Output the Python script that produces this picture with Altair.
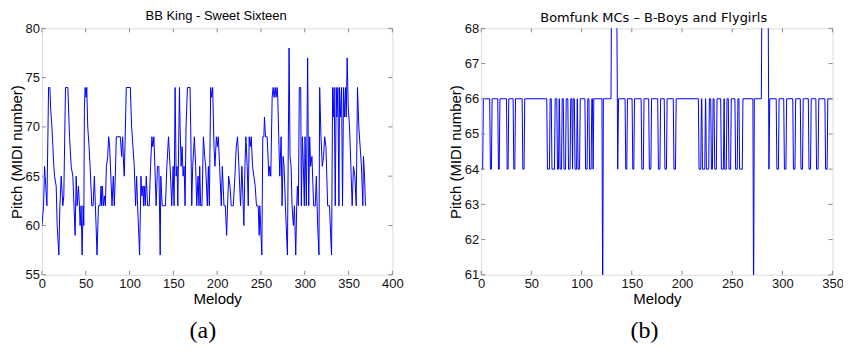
import altair as alt
import pandas as pd

# ---------------- Panel (a): BB King - Sweet Sixteen ----------------
a_x = [0.0, 1.9, 3.0, 5.7, 7.6, 9.1, 9.9, 11.4, 12.5, 13.6,
       14.4, 16.3, 17.4, 19.3, 20.5, 22.0, 23.9, 25.0, 26.9, 29.6,
       31.5, 33.4, 35.3, 37.9, 39.1, 40.2, 41.7, 42.8, 43.6, 44.7,
       45.9, 47.0, 47.8, 48.5, 49.3, 50.4, 51.2, 52.3, 53.8, 55.0,
       56.9, 58.4, 59.9, 61.0, 61.8, 62.9, 64.5, 66.4, 67.5, 68.2,
       69.0, 70.1, 71.3, 72.4, 73.6, 75.1, 76.2, 77.3, 80.0, 81.5,
       82.6, 83.8, 84.9, 89.5, 91.0, 92.1, 93.3, 94.0, 94.8, 96.3,
       100.9, 102.4, 103.9, 105.4, 106.9, 108.1, 109.2, 111.5, 113.0, 114.1,
       115.3, 116.0, 116.8, 117.9, 119.1, 120.6, 122.5, 124.0, 125.5, 126.6,
       127.8, 128.9, 130.4, 131.9, 133.5, 134.2, 135.0, 135.7, 137.3, 141.0,
       142.6, 144.5, 146.3, 148.2, 149.8, 150.9, 152.0, 153.2, 154.3, 155.1,
       157.0, 157.7, 158.9, 160.0, 161.1, 162.3, 163.4, 164.5, 166.1, 169.1,
       169.8, 171.0, 172.1, 174.0, 175.5, 176.7, 178.2, 179.3, 180.1, 181.2,
       182.7, 184.3, 185.8, 186.9, 188.8, 190.0, 191.1, 192.6, 193.7, 194.9,
       196.4, 197.5, 199.1, 200.2, 201.3, 202.8, 204.7, 205.9, 207.8, 209.3,
       210.8, 211.9, 213.1, 214.6, 216.1, 218.4, 220.3, 221.8, 223.3, 224.8,
       226.7, 228.3, 230.5, 231.7, 232.8, 234.3, 235.5, 236.6, 237.7, 238.9,
       240.4, 241.9, 243.4, 244.9, 246.8, 248.0, 248.7, 251.0, 252.1, 253.3,
       254.0, 255.2, 257.1, 259.0, 260.1, 261.2, 262.8, 263.9, 265.0, 266.2,
       267.3, 268.4, 269.2, 270.3, 271.5, 273.0, 274.1, 275.3, 276.4, 277.9,
       280.2, 282.1, 283.2, 284.4, 285.5, 287.0, 288.2, 289.7, 290.8, 291.6,
       292.7, 293.8, 295.4, 296.1, 297.3, 298.4, 299.5, 300.3, 301.8, 303.3,
       304.5, 305.6, 306.7, 308.2, 310.1, 312.0, 313.2, 314.7, 316.2, 317.0,
       318.5, 320.0, 321.5, 322.7, 324.2, 326.1, 328.3, 329.5, 330.6, 331.8,
       332.5, 333.6, 334.8, 335.9, 336.7, 337.8, 339.0, 339.7, 340.9, 342.0,
       343.1, 344.3, 345.4, 346.5, 347.3, 348.4, 349.6, 351.1, 352.6, 354.1,
       355.6, 357.2, 358.7, 360.2, 361.7, 363.2, 364.7, 366.3, 367.0, 368.2,
       369.3]
a_y = [60, 62, 66, 62, 74, 74, 72, 70, 68, 66,
       65, 64, 60, 57, 62, 65, 62, 63, 74, 74,
       69, 66, 65, 59, 65, 62, 64, 62, 60, 62,
       57, 62, 60, 72, 74, 73, 74, 70, 68, 66,
       62, 62, 65, 62, 60, 57, 62, 62, 64, 62,
       64, 62, 63, 62, 66, 67, 69, 68, 62, 65,
       62, 65, 69, 69, 67, 69, 66, 65, 68, 74,
       74, 70, 68, 66, 62, 65, 62, 57, 65, 63,
       64, 62, 64, 62, 65, 62, 62, 66, 69, 68,
       69, 66, 62, 66, 66, 62, 57, 65, 62, 62,
       66, 69, 66, 62, 66, 62, 74, 65, 66, 62,
       74, 70, 66, 68, 65, 66, 62, 70, 74, 74,
       70, 62, 66, 69, 66, 62, 65, 62, 66, 62,
       62, 69, 67, 66, 62, 66, 62, 74, 73, 74,
       68, 66, 69, 68, 69, 66, 62, 66, 62, 62,
       59, 62, 65, 64, 62, 62, 65, 68, 69, 66,
       62, 66, 60, 66, 69, 66, 62, 69, 68, 69,
       66, 65, 64, 62, 62, 59, 62, 57, 69, 69,
       71, 69, 69, 65, 66, 65, 73, 74, 73, 74,
       73, 74, 73, 69, 65, 69, 62, 67, 66, 62,
       57, 78, 67, 66, 62, 60, 62, 57, 62, 64,
       62, 74, 74, 62, 69, 66, 62, 69, 62, 77,
       62, 69, 66, 67, 62, 62, 65, 60, 57, 74,
       69, 66, 67, 69, 68, 62, 62, 59, 57, 74,
       71, 74, 62, 74, 71, 74, 62, 74, 71, 74,
       62, 74, 71, 74, 71, 77, 72, 70, 66, 62,
       66, 65, 62, 74, 70, 68, 66, 62, 67, 65,
       62]
a_xticks = [0, 50, 100, 150, 200, 250, 300, 350, 400]
a_yticks = [55, 60, 65, 70, 75, 80]

# ---------------- Panel (b): Bomfunk MCs - B-Boys and Flygirls ----------------
b_x = [0.0, 1.5, 2.2,
       8.5, 9.2, 10.2, 10.9,
       16.5, 17.2, 18.0, 18.7,
       25.2, 25.9, 26.8, 27.5,
       31.8, 32.5, 33.5, 34.2,
       40.8, 41.5, 42.7, 43.4,
       65.3, 66.0, 68.0, 68.7,
       69.8, 70.5, 73.0, 73.7,
       75.3, 76.0, 77.0, 77.7,
       77.9, 78.6, 80.0, 80.7,
       81.8, 82.5, 84.0, 84.7,
       86.3, 87.0, 88.5, 89.2,
       90.3, 91.0, 91.7,
       92.8, 93.5, 95.0, 95.7,
       95.8, 96.5, 98.0, 98.7,
       103.3, 104.0, 105.5, 106.2,
       107.3, 108.0, 109.5, 110.2,
       110.8, 111.5, 112.2,
       120.3, 121.0, 121.7,
       129.3, 130.0, 134.8, 136.0, 136.8,
       143.3, 144.0, 145.0, 145.7,
       150.3, 151.0, 152.0, 152.7,
       159.3, 160.0, 161.5, 162.2,
       166.8, 167.5, 169.0, 169.7,
       175.8, 176.5, 178.0, 178.7,
       182.3, 183.0, 184.5, 185.2,
       191.3, 192.0, 193.5, 194.2,
       216.3, 217.0, 218.7, 219.4,
       219.7, 220.4, 222.7, 223.4,
       223.6, 224.3, 226.6, 227.3,
       228.6, 229.3, 230.3, 231.0,
       231.9, 232.6, 234.2, 234.9,
       238.5, 239.2, 241.2, 241.9,
       242.0, 242.6, 244.1, 244.8,
       246.1, 246.8, 248.4, 249.1,
       252.7, 253.4, 255.0, 255.7,
       256.7, 257.4, 260.0, 260.7,
       270.6, 271.3, 272.0,
       279.0, 279.8, 285.6, 286.6, 287.4,
       293.8, 294.5, 296.0, 296.7,
       301.3, 302.0, 303.5, 304.2,
       310.3, 311.0, 312.5, 313.2,
       317.8, 318.5, 320.0, 320.7,
       325.8, 326.5, 328.0, 328.7,
       333.3, 334.0, 335.5, 336.2,
       342.3, 343.0, 344.5, 345.2,
       350.0]
b_y = [64, 64, 66,
       66, 64, 64, 66,
       66, 64, 64, 66,
       66, 64, 64, 66,
       66, 64, 64, 66,
       66, 64, 64, 66,
       66, 64, 64, 66,
       66, 64, 64, 66,
       66, 64, 64, 66,
       66, 64, 64, 66,
       66, 64, 64, 66,
       66, 64, 64, 66,
       66, 64, 66,
       66, 64, 64, 66,
       66, 64, 64, 66,
       66, 64, 64, 66,
       66, 64, 64, 66,
       66, 64, 66,
       66, 60, 66,
       66, 70, 70, 64, 66,
       66, 64, 64, 66,
       66, 64, 64, 66,
       66, 64, 64, 66,
       66, 64, 64, 66,
       66, 64, 64, 66,
       66, 64, 64, 66,
       66, 64, 64, 66,
       66, 64, 64, 66,
       66, 64, 64, 66,
       66, 64, 64, 66,
       66, 64, 64, 66,
       66, 64, 64, 66,
       66, 64, 64, 66,
       66, 64, 64, 66,
       66, 64, 64, 66,
       66, 64, 64, 66,
       66, 64, 64, 66,
       66, 60, 66,
       66, 70, 70, 64, 66,
       66, 64, 64, 66,
       66, 64, 64, 66,
       66, 64, 64, 66,
       66, 64, 64, 66,
       66, 64, 64, 66,
       66, 64, 64, 66,
       66, 64, 64, 66,
       66]
b_xticks = [0, 50, 100, 150, 200, 250, 300, 350]
b_yticks = [61, 62, 63, 64, 65, 66, 67, 68]

GRAY = "#8a8a8a"
BLUE = "#0000ff"
SANS = "Liberation Sans"
TICK = 4


def panel(xs, ys, xdom, ydom, xticks, yticks, title, tfont, tsize, tdx, tdy,
          label, label_x, W, H):
    df = pd.DataFrame({"x": xs, "y": ys})
    xsc = alt.Scale(domain=xdom, nice=False, zero=False)
    ysc = alt.Scale(domain=ydom, nice=False, zero=False)
    xaxis = alt.Axis(values=xticks, title="Melody", ticks=False, tickSize=0, domain=False,
                     grid=False, labelFont=SANS, labelFontSize=13, labelColor="#111111",
                     labelPadding=12.5, labelBaseline="alphabetic", labelFlush=False,
                     labelOverlap=False, titleFont=SANS, titleFontSize=15,
                     titleFontWeight="normal", titleColor="#000000",
                     titleY=29.2, titleBaseline="alphabetic")
    yaxis = alt.Axis(values=yticks, title="Pitch (MIDI number)", ticks=False, tickSize=0,
                     domain=False, grid=False, labelFont=SANS, labelFontSize=13,
                     labelColor="#111111", labelPadding=2.4, labelBaseline="middle",
                     labelFlush=False, labelOverlap=False, titleFont=SANS,
                     titleFontSize=15, titleFontWeight="normal", titleColor="#000000",
                     titleX=-25.7, titleBaseline="middle")
    line = alt.Chart(df).mark_line(color=BLUE, strokeWidth=1, clip=True).encode(
        x=alt.X("x:Q", scale=xsc, axis=xaxis, title="Melody"),
        y=alt.Y("y:Q", scale=ysc, axis=yaxis, title="Pitch (MIDI number)"),
    )
    tx = pd.DataFrame({"x": xticks})
    ty = pd.DataFrame({"y": yticks})
    rx = alt.X("x:Q", scale=xsc, axis=xaxis, title="Melody")
    ry = alt.Y("y:Q", scale=ysc, axis=yaxis, title="Pitch (MIDI number)")
    t_bottom = alt.Chart(tx).mark_rule(color=GRAY, strokeWidth=1).encode(
        x=rx, y=alt.value(H), y2=alt.value(H - TICK))
    t_top = alt.Chart(tx).mark_rule(color=GRAY, strokeWidth=1).encode(
        x=rx, y=alt.value(0), y2=alt.value(TICK))
    t_left = alt.Chart(ty).mark_rule(color=GRAY, strokeWidth=1).encode(
        y=ry, x=alt.value(0), x2=alt.value(TICK))
    t_right = alt.Chart(ty).mark_rule(color=GRAY, strokeWidth=1).encode(
        y=ry, x=alt.value(W), x2=alt.value(W - TICK))
    lab = alt.Chart(pd.DataFrame({"t": [label]})).mark_text(
        font="Liberation Serif", fontSize=24, color="#000000", baseline="middle",
        align="center").encode(text="t:N", x=alt.value(label_x), y=alt.value(H + 56.5))
    return alt.layer(line, t_bottom, t_top, t_left, t_right, lab).properties(
        width=W, height=H,
        title=alt.TitleParams(text=title, font=tfont, fontSize=tsize, fontWeight="normal",
                              color="#000000", baseline="alphabetic", offset=10,
                              dx=tdx, dy=tdy, anchor="middle", frame="group"),
    )


left = panel(a_x, a_y, [0, 400], [55, 80], a_xticks, a_yticks,
             "BB King - Sweet Sixteen", SANS, 13, -1, 20.2, "(a)", 161.3, 351.3, 247)
right = panel(b_x, b_y, [0, 350], [61, 68], b_xticks, b_yticks,
              "Bomfunk MCs \u2013 B-Boys and Flygirls", "DejaVu Sans", 13, -3.2, 22.2,
              "(b)", 163.7, 352.3, 247)

chart = alt.hconcat(left, right, spacing=88.3, bounds="flush").properties(
    padding={"left": 0, "top": 0, "right": -1, "bottom": 0}
).configure_view(stroke=GRAY, strokeWidth=1).configure(background="white")

chart.save("out.html", embed_options={"renderer": "svg", "actions": False})
